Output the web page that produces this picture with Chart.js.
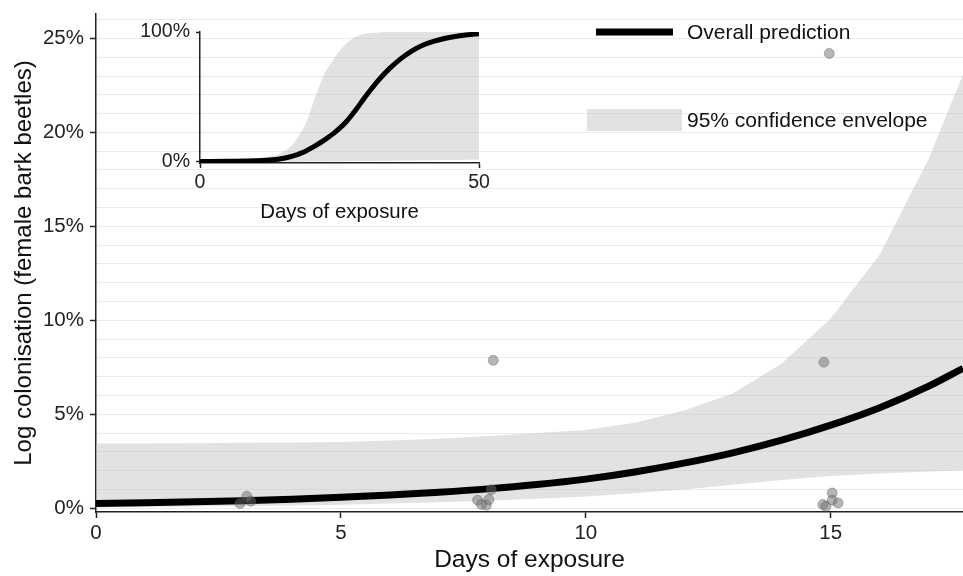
<!DOCTYPE html>
<html>
<head>
<meta charset="utf-8">
<title>Colonisation by days of exposure</title>
<script src="https://cdn.jsdelivr.net/npm/chart.js@4.4.0/dist/chart.umd.min.js"></script>
<style>
    html, body { margin: 0; padding: 0; background: #fff; }
    #wrap { position: relative; width: 963px; height: 576px; }
    #main { position: absolute; left: 0; top: 0; }
    #inset { position: absolute; left: 100px; top: 10px; }
</style>
</head>
<body>
<div id="wrap">
    <canvas id="main" width="963" height="576"></canvas>
    <canvas id="inset" width="390" height="215"></canvas>
</div>
<script>
// main panel: prediction and 95% envelope (percent)
var days = [0, 1, 2, 3, 4, 5, 6, 7, 8, 9, 10, 11, 12, 13, 14, 15, 16, 17, 17.7];
var prediction = [0.25, 0.29, 0.34, 0.4, 0.48, 0.58, 0.7, 0.85, 1.03, 1.26, 1.55, 1.93, 2.4, 2.95, 3.62, 4.42, 5.35, 6.5, 7.45];
var ciLower = [0.05, 0.07, 0.09, 0.12, 0.15, 0.19, 0.25, 0.32, 0.4, 0.5, 0.62, 0.8, 1.0, 1.25, 1.5, 1.72, 1.85, 1.96, 2.02];
var ciUpper = [3.44, 3.45, 3.46, 3.48, 3.5, 3.53, 3.6, 3.7, 3.85, 4.0, 4.17, 4.55, 5.2, 6.1, 7.7, 10.1, 13.5, 18.6, 23.1];

// observed trees (jittered days, percent)
var obsDays = [2.94, 3.08, 3.16, 7.79, 7.87, 7.97, 8.02, 8.07, 8.11, 14.84, 14.9, 15.03, 15.03, 15.15, 14.86, 14.97];
var obsValues = [0.25, 0.64, 0.37, 0.43, 0.2, 0.16, 0.46, 0.99, 7.87, 0.2, 0.1, 0.81, 0.43, 0.28, 7.77, 24.2];

// inset: full 50 day range
var insetDays = [0, 5, 10, 12, 14, 15, 16, 17, 18, 19, 20, 21, 22, 23, 24, 25, 26, 27, 28, 29, 30, 32, 34, 36, 38, 40, 42, 44, 46, 48, 50];
var insetPrediction = [0.3, 0.5, 0.9, 1.3, 2.1, 2.8, 3.8, 5.0, 6.6, 8.5, 10.8, 13.3, 16.0, 19.0, 22.2, 25.8, 30.0, 35.0, 40.5, 46.5, 52.3, 63, 72, 79.5, 85.5, 90, 93, 95.2, 96.8, 97.9, 98.7];
var insetLower = [0, 0.05, 0.1, 0.12, 0.15, 0.17, 0.2, 0.22, 0.25, 0.28, 0.3, 0.35, 0.4, 0.45, 0.5, 0.55, 0.6, 0.65, 0.7, 0.75, 0.8, 0.9, 1.0, 1.1, 1.2, 1.3, 1.4, 1.5, 1.6, 1.7, 1.8];
var insetUpper = [0.6, 1.0, 2.5, 3.8, 6.0, 8.2, 11, 15.5, 22, 30, 42, 54, 65, 73, 79, 85.5, 90, 94, 96.5, 98, 99, 99.7, 100, 100, 100, 100, 100, 100, 100, 100, 100];

var insetYTicks = [0, 100];
var legendLabels = ['Overall prediction', '95% confidence envelope'];

(function () {

    "use strict";

    var FONT = "'Liberation Sans', Arial, sans-serif";
    var INK = '#222';
    var BAND = 'rgba(190,190,190,0.45)';

    /**
     * Pairs x and y arrays into {x, y} points
     */
    function toPoints(xs, ys) {
        return xs.map(function (x, i) { return { x: x, y: ys[i] }; });
    }

    // legend drawn at top right of the main panel
    var legendPlugin = {
        id: 'cornerLegend',
        afterDraw: function (chart) {
            var ctx = chart.ctx;
            ctx.save();
            ctx.strokeStyle = '#000';
            ctx.lineWidth = 7;
            ctx.beginPath();
            ctx.moveTo(596, 32);
            ctx.lineTo(673, 32);
            ctx.stroke();
            ctx.fillStyle = BAND;
            ctx.fillRect(587, 109, 95, 22);
            ctx.fillStyle = '#111';
            ctx.font = '21px ' + FONT;
            ctx.textBaseline = 'middle';
            ctx.textAlign = 'left';
            ctx.fillText(legendLabels[0], 687, 33);
            ctx.fillText(legendLabels[1], 687, 121);
            ctx.restore();
        }
    };

    new Chart(document.getElementById('main'), {
        type: 'line',
        data: {
            datasets: [{
                data: toPoints(days, ciLower),
                borderWidth: 0,
                pointRadius: 0,
                fill: false,
                order: 3
            }, {
                data: toPoints(days, ciUpper),
                borderWidth: 0,
                pointRadius: 0,
                backgroundColor: BAND,
                fill: '-1',
                order: 2
            }, {
                data: toPoints(days, prediction),
                borderColor: '#000',
                borderWidth: 7,
                pointRadius: 0,
                cubicInterpolationMode: 'monotone',
                fill: false,
                order: 1
            }, {
                data: toPoints(obsDays, obsValues),
                showLine: false,
                pointRadius: 5,
                backgroundColor: 'rgba(110,110,110,0.5)',
                borderColor: 'rgba(90,90,90,0.5)',
                borderWidth: 0.8,
                order: 0
            }]
        },
        options: {
            responsive: false,
            animation: false,
            devicePixelRatio: 1,
            layout: { autoPadding: false, padding: { top: 14, right: 0, left: 0, bottom: 0 } },
            plugins: { legend: { display: false }, tooltip: { enabled: false } },
            scales: {
                x: {
                    type: 'linear',
                    min: 0,
                    max: 17.7,
                    ticks: { stepSize: 5, includeBounds: false, color: INK, font: { family: FONT, size: 20.5 }, padding: 3 },
                    grid: { drawOnChartArea: false, tickLength: 6, tickColor: INK, tickWidth: 1.5 },
                    border: { color: INK, width: 1.5 },
                    title: { display: true, text: 'Days of exposure', color: '#111', font: { family: FONT, size: 24.5 }, padding: { top: 4, bottom: 1.3 } },
                    afterFit: function (scale) {
                        scale.height = 64;
                        scale.paddingLeft = 0;
                        scale.paddingRight = 0;
                    }
                },
                y: {
                    min: -0.2,
                    max: 26.3,
                    ticks: {
                        stepSize: 1,
                        includeBounds: false,
                        autoSkip: false,
                        color: INK,
                        font: { family: FONT, size: 20.5 },
                        padding: 6,
                        callback: function (v) { return v % 5 === 0 ? v + '%' : ''; }
                    },
                    grid: {
                        color: '#ebebeb',
                        lineWidth: 1,
                        tickLength: 6,
                        tickWidth: 1.5,
                        tickColor: function (c) { return c.tick && c.tick.value % 5 === 0 ? INK : 'rgba(0,0,0,0)'; }
                    },
                    border: { color: INK, width: 1.5 },
                    title: { display: true, text: 'Log colonisation (female bark beetles)', color: '#111', font: { family: FONT, size: 24 }, padding: { top: 9.6 } },
                    afterFit: function (scale) {
                        scale.width = 96;
                        scale.paddingTop = 0;
                        scale.paddingBottom = 0;
                    }
                }
            }
        },
        plugins: [legendPlugin]
    });

    new Chart(document.getElementById('inset'), {
        type: 'line',
        data: {
            datasets: [{
                data: toPoints(insetDays, insetLower),
                borderWidth: 0,
                pointRadius: 0,
                fill: false,
                order: 3
            }, {
                data: toPoints(insetDays, insetUpper),
                borderWidth: 0,
                pointRadius: 0,
                backgroundColor: BAND,
                fill: '-1',
                cubicInterpolationMode: 'monotone',
                order: 2
            }, {
                data: toPoints(insetDays, insetPrediction),
                borderColor: '#000',
                borderWidth: 5,
                pointRadius: 0,
                cubicInterpolationMode: 'monotone',
                fill: false,
                order: 1
            }]
        },
        options: {
            responsive: false,
            animation: false,
            devicePixelRatio: 1,
            layout: { autoPadding: false, padding: { top: 22, right: 11, left: 0, bottom: 0 } },
            plugins: { legend: { display: false }, tooltip: { enabled: false } },
            scales: {
                x: {
                    type: 'linear',
                    min: 0,
                    max: 50,
                    ticks: { stepSize: 50, includeBounds: false, color: INK, font: { family: FONT, size: 19.5 }, padding: 3 },
                    grid: { drawOnChartArea: false, tickLength: 5, tickColor: INK, tickWidth: 1.5 },
                    border: { color: INK, width: 1.5 },
                    title: { display: true, text: 'Days of exposure', color: '#111', font: { family: FONT, size: 20.4 }, padding: { top: 2, bottom: 0 } },
                    afterFit: function (scale) {
                        scale.height = 62;
                        scale.paddingLeft = 0;
                        scale.paddingRight = 0;
                    }
                },
                y: {
                    min: -0.8,
                    max: 100,
                    afterBuildTicks: function (scale) {
                        scale.ticks = insetYTicks.map(function (v) { return { value: v }; });
                    },
                    ticks: {
                        color: INK,
                        font: { family: FONT, size: 19.5 },
                        padding: 6,
                        callback: function (v) { return v + '%'; }
                    },
                    grid: { drawOnChartArea: false, tickLength: 4, tickColor: INK, tickWidth: 1.5 },
                    border: { color: INK, width: 1.5 },
                    afterFit: function (scale) { scale.width = 100; }
                }
            }
        }
    });

})();
</script>
</body>
</html>
